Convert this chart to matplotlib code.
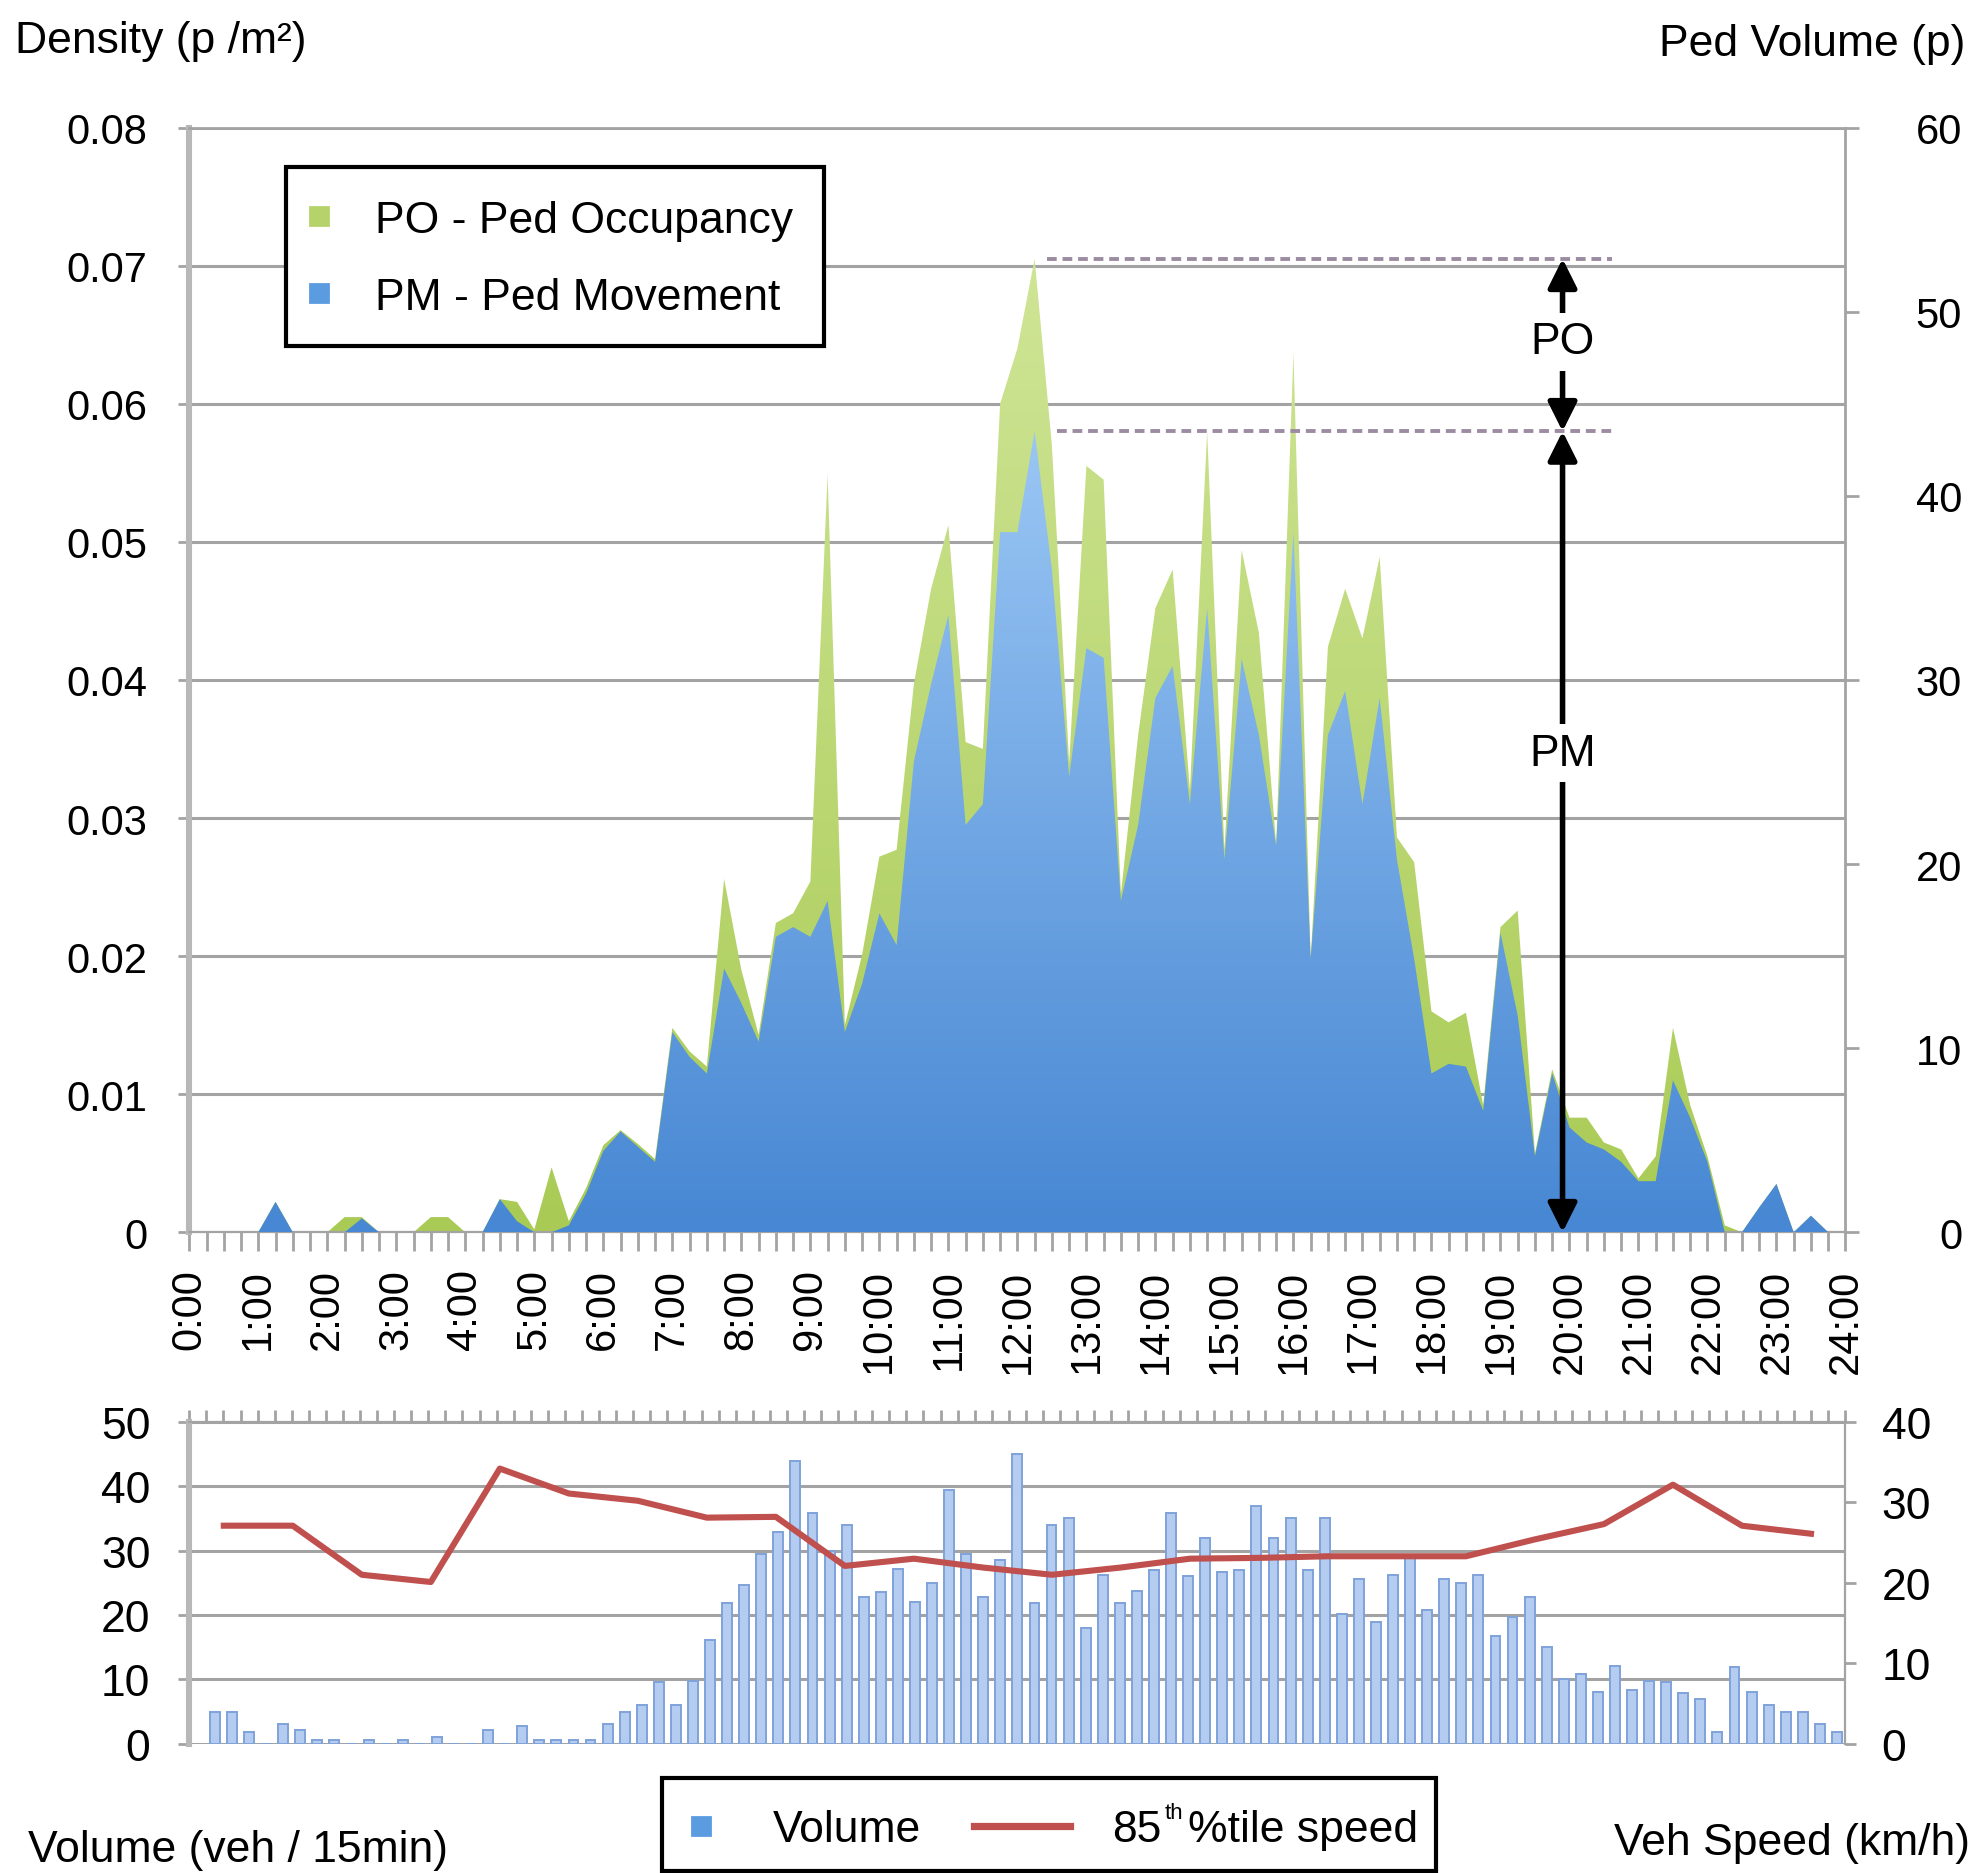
import numpy as np
import matplotlib
matplotlib.use('Agg')
import matplotlib.pyplot as plt
from matplotlib.colors import LinearSegmentedColormap
from matplotlib.lines import Line2D
from matplotlib.patches import Rectangle
from matplotlib.ticker import FuncFormatter

plt.rcParams['font.family'] = ['Liberation Sans', 'DejaVu Sans']

# ---------------- data ----------------
hour_labels = [f"{h}:00" for h in range(25)]

# pedestrian density, 15-min intervals (p/m2)
ped_movement = [
    0, 0, 0, 0, 0, 0.0022, 0, 0, 0, 0, 0.0010, 0,
    0, 0, 0, 0, 0, 0, 0.0024, 0.0008, 0, 0, 0.0005, 0.0028,
    0.0059, 0.0073, 0.0062, 0.0051, 0.0145, 0.0127, 0.0115, 0.0191, 0.0166, 0.0138, 0.0214, 0.0221,
    0.0214, 0.0240, 0.0145, 0.0180, 0.0231, 0.0208, 0.0341, 0.0397, 0.0447, 0.0295, 0.0310, 0.0507,
    0.0507, 0.0580, 0.0480, 0.0330, 0.0423, 0.0416, 0.0240, 0.0295, 0.0387, 0.0410, 0.0310, 0.0452,
    0.0270, 0.0415, 0.0360, 0.0280, 0.0507, 0.0198, 0.0360, 0.0392, 0.0310, 0.0387, 0.0270, 0.0198,
    0.0115, 0.0122, 0.0120, 0.0088, 0.0217, 0.0157, 0.0055, 0.0115, 0.0076, 0.0065, 0.0060, 0.0051,
    0.0037, 0.0037, 0.0110, 0.0083, 0.0051, 0, 0, 0.0018, 0.0035, 0, 0.0012, 0,
]
# total density = movement + occupancy (p/m2)
ped_total = [
    0, 0, 0, 0, 0, 0.0022, 0, 0, 0, 0.0011, 0.0011, 0,
    0, 0, 0.0011, 0.0011, 0, 0, 0.0024, 0.0022, 0.0002, 0.0047, 0.0008, 0.0032,
    0.0063, 0.0074, 0.0064, 0.0053, 0.0148, 0.0131, 0.0120, 0.0256, 0.0190, 0.0143, 0.0224, 0.0231,
    0.0254, 0.0549, 0.0150, 0.0201, 0.0272, 0.0277, 0.0397, 0.0466, 0.0512, 0.0355, 0.0350, 0.0600,
    0.0640, 0.0705, 0.0570, 0.0340, 0.0555, 0.0545, 0.0245, 0.0360, 0.0452, 0.0480, 0.0320, 0.0580,
    0.0277, 0.0494, 0.0434, 0.0281, 0.0637, 0.0198, 0.0424, 0.0466, 0.0430, 0.0489, 0.0286, 0.0268,
    0.0160, 0.0152, 0.0159, 0.0092, 0.0221, 0.0233, 0.0057, 0.0118, 0.0083, 0.0083, 0.0065, 0.0060,
    0.0039, 0.0055, 0.0148, 0.0092, 0.0055, 0.0005, 0, 0.0018, 0.0035, 0, 0.0012, 0,
]
# vehicle volume (veh / 15min)
veh_volume = [
    4.9, 4.9, 1.8, 0, 3.0, 2.1, 0.6, 0.5, 0, 0.6, 0, 0.6,
    0, 1.0, 0, 0, 2.1, 0, 2.8, 0.6, 0.6, 0.6, 0.6, 3.1,
    4.9, 6.0, 9.6, 6.0, 9.8, 16.1, 21.8, 24.6, 29.5, 32.9, 44.0, 35.8,
    30.0, 34.0, 22.8, 23.6, 27.2, 22.0, 24.9, 39.4, 29.5, 22.8, 28.5, 45.0,
    21.8, 34.0, 35.0, 18.0, 26.2, 21.8, 23.8, 27.0, 35.8, 26.0, 32.0, 26.7,
    27.0, 37.0, 32.0, 35.0, 27.0, 35.0, 20.2, 25.6, 18.9, 26.2, 29.0, 20.7,
    25.6, 24.9, 26.2, 16.8, 19.7, 22.8, 15.0, 10.1, 10.9, 8.0, 12.0, 8.3,
    9.8, 9.6, 7.8, 7.0, 1.8, 11.9, 8.0, 6.0, 4.9, 4.9, 3.1, 1.8,
]
# 85th percentile vehicle speed, hourly (km/h)
speed85 = [27.1, 27.1, 21.0, 20.1, 34.2, 31.1, 30.2, 28.1, 28.2, 22.1, 23.0, 21.9,
           21.0, 21.9, 23.0, 23.1, 23.3, 23.3, 23.3, 25.4, 27.3, 32.2, 27.1, 26.1]

# ---------------- styling ----------------
GRID = '#a3a3a3'
SPINE = '#b8b8b8'
BLUE_BOT, BLUE_TOP = '#4787d3', '#9ac6f4'
GREEN_BOT, GREEN_TOP = '#a9cb55', '#cfe596'
BAR_FACE, BAR_EDGE = '#b3ccef', '#7fa2da'
RED = '#c0504d'

W, H = 1568.0, 1485.5   # reference layout units (pixels of the reduced view)


def fx(px):
    return px / W


def fy(py):
    return 1 - py / H


fig = plt.figure(figsize=(9.89, 9.37), dpi=200)

# ---------------- top chart ----------------
ax = fig.add_axes([0.0957, 0.3419, 0.8373, 0.5895])
pm = np.array(ped_movement)
tot = np.array(ped_total)
x = np.arange(len(pm)) * 0.25


def gradient_area(ax, xs, ys, c0, c1, vmax, z):
    coll = ax.fill_between(xs, 0, ys, facecolor='none', edgecolor='none', zorder=z)
    cmap = LinearSegmentedColormap.from_list('g', [c0, c1])
    grad = np.linspace(0, 1, 256).reshape(-1, 1)
    im = ax.imshow(grad, cmap=cmap, aspect='auto', origin='lower',
                   extent=[0, 24, 0, vmax], zorder=z, interpolation='bilinear')
    im.set_clip_path(coll.get_paths()[0], transform=ax.transData)


gradient_area(ax, x, tot, GREEN_BOT, GREEN_TOP, tot.max(), 2)
gradient_area(ax, x, pm, BLUE_BOT, BLUE_TOP, pm.max(), 3)

ax.set_xlim(0, 24)
ax.set_ylim(0, 0.08)
ax.set_yticks(np.arange(0, 0.081, 0.01))
ax.yaxis.set_major_formatter(FuncFormatter(lambda v, p: '0' if abs(v) < 1e-9 else f'{v:.2f}'))
ax.yaxis.grid(True, color=GRID, lw=1.1, zorder=0)
ax.set_axisbelow(True)
ax.set_xticks(range(25))
ax.set_xticklabels(hour_labels, rotation=90)
ax.set_xticks(np.arange(0, 24.01, 0.25), minor=True)
ax.tick_params(axis='x', which='both', direction='out', length=7, width=1, color=GRID,
               labelsize=15, pad=6)
ax.tick_params(axis='y', direction='out', length=4, width=1, color=GRID, labelsize=15, pad=11)
for s in ['top', 'right']:
    ax.spines[s].set_color(GRID)
    ax.spines[s].set_linewidth(1.0)
ax.spines['bottom'].set_color(GRID)
ax.spines['left'].set_color(SPINE)
ax.spines['left'].set_linewidth(2.2)

ax2 = ax.twinx()
ax2.set_ylim(0, 60)
ax2.set_yticks(range(0, 61, 10))
ax2.tick_params(axis='y', direction='out', length=5, width=1, color=GRID, labelsize=15, pad=37)
for t in ax2.get_yticklabels():
    t.set_horizontalalignment('right')
for s in ax2.spines.values():
    s.set_visible(False)

# annotation: PO / PM extents
ipk = int(np.argmax(tot))
x_arrow = 19.9
ax.hlines(tot.max(), x[ipk] + 0.18, 20.62, colors='#9c8ca2', lw=1.4, linestyles=(0, (2.5, 1.5)), zorder=6)
ax.hlines(pm.max(), x[ipk] + 0.33, 20.66, colors='#9c8ca2', lw=1.4, linestyles=(0, (2.5, 1.5)), zorder=6)
arrow_kw = dict(arrowstyle='<|-|>', color='black', lw=2.0, mutation_scale=22, shrinkA=0, shrinkB=0)
ax.annotate('', xy=(x_arrow, tot.max()), xytext=(x_arrow, pm.max()), arrowprops=arrow_kw, zorder=7)
ax.annotate('', xy=(x_arrow, pm.max()), xytext=(x_arrow, 0), arrowprops=arrow_kw, zorder=7)
ax.text(x_arrow, 0.0645, 'PO', ha='center', va='center', fontsize=16, zorder=8,
        bbox=dict(facecolor='white', edgecolor='none', pad=3))
ax.text(x_arrow, 0.0347, 'PM', ha='center', va='center', fontsize=16, zorder=8,
        bbox=dict(facecolor='white', edgecolor='none', pad=3))

# ---------------- top legend (drawn as figure artists) ----------------
fig.add_artist(Rectangle((fx(227), fy(275)), fx(653) - fx(227), fy(133) - fy(275),
                         transform=fig.transFigure, facecolor='white', edgecolor='black',
                         lw=1.5, zorder=5))
for yy, col, lab in [(172, '#b5d36a', 'PO - Ped Occupancy'), (233, '#5b9be0', 'PM - Ped Movement')]:
    fig.add_artist(Line2D([fx(253)], [fy(yy)], transform=fig.transFigure, ls='none',
                          marker='s', markersize=6.5, color=col, zorder=6))
    fig.text(fx(297), fy(yy + 12.5), lab, fontsize=16, ha='left', va='baseline', zorder=6)

# ---------------- bottom chart ----------------
bx = fig.add_axes([0.0957, 0.069, 0.8373, 0.1717])
vol = np.array(veh_volume)
ncat = len(vol) + 1
bar_x = (np.arange(1, ncat) + 0.5) * 24 / ncat
bx.bar(bar_x, vol, width=0.58 * 24 / ncat, color=BAR_FACE, edgecolor=BAR_EDGE, linewidth=0.7, zorder=2)
bx.set_xlim(0, 24)
bx.set_ylim(0, 50)
bx.set_yticks(range(0, 51, 10))
bx.yaxis.grid(True, color=GRID, lw=1.1, zorder=0)
bx.set_axisbelow(True)
bx.xaxis.set_ticks_position('top')
bx.set_xticks([])
bx.set_xticks(np.arange(ncat + 1) * 24 / ncat, minor=True)
bx.tick_params(axis='x', which='both', direction='out', length=4.5, width=1, color=GRID,
               labeltop=False, labelbottom=False)
bx.tick_params(axis='y', direction='out', length=4, width=1, color=GRID, labelsize=16, pad=10)
bx.spines['top'].set_color(GRID)
bx.spines['bottom'].set_visible(False)
bx.spines['right'].set_color(GRID)
bx.spines['left'].set_color(SPINE)
bx.spines['left'].set_linewidth(2.2)

bx2 = bx.twinx()
bx2.plot(np.arange(len(speed85)) + 0.5, speed85, color=RED, lw=2.2, zorder=3)
bx2.set_ylim(0, 40)
bx2.set_yticks(range(0, 41, 10))
bx2.tick_params(axis='y', direction='out', length=4, width=1, color=GRID, labelsize=16, pad=9)
for s in bx2.spines.values():
    s.set_visible(False)

# ---------------- axis titles ----------------
fig.text(0.0077, 0.978, 'Density (p /m²)', fontsize=16, ha='left', va='center')
fig.text(0.9936, 0.9764, 'Ped Volume (p)', fontsize=16, ha='right', va='center')
fig.text(0.014, 0.0128, 'Volume (veh / 15min)', fontsize=16, ha='left', va='center')
fig.text(0.996, 0.0162, 'Veh Speed (km/h)', fontsize=16, ha='right', va='center')

# ---------------- bottom legend ----------------
fig.add_artist(Rectangle((fx(525), fy(1484)), fx(1138) - fx(525), fy(1410) - fy(1484),
                         transform=fig.transFigure, facecolor='white', edgecolor='black',
                         lw=1.5, zorder=5))
fig.add_artist(Line2D([fx(556)], [fy(1448)], transform=fig.transFigure, ls='none',
                      marker='s', markersize=6.5, color='#5b9be0', zorder=6))
fig.text(fx(613), fy(1460), 'Volume', fontsize=16, ha='left', va='baseline', zorder=6)
fig.add_artist(Line2D([fx(772), fx(848)], [fy(1448), fy(1448)], transform=fig.transFigure,
                      color=RED, lw=2.6, zorder=6))
fig.text(fx(882), fy(1460), '85', fontsize=16, ha='left', va='baseline', zorder=6)
fig.text(fx(923), fy(1442), 'th', fontsize=8, ha='left', va='baseline', zorder=6)
fig.text(fx(942), fy(1460), '%tile speed', fontsize=16, ha='left', va='baseline', zorder=6)

fig.savefig('out.png', dpi=200)
